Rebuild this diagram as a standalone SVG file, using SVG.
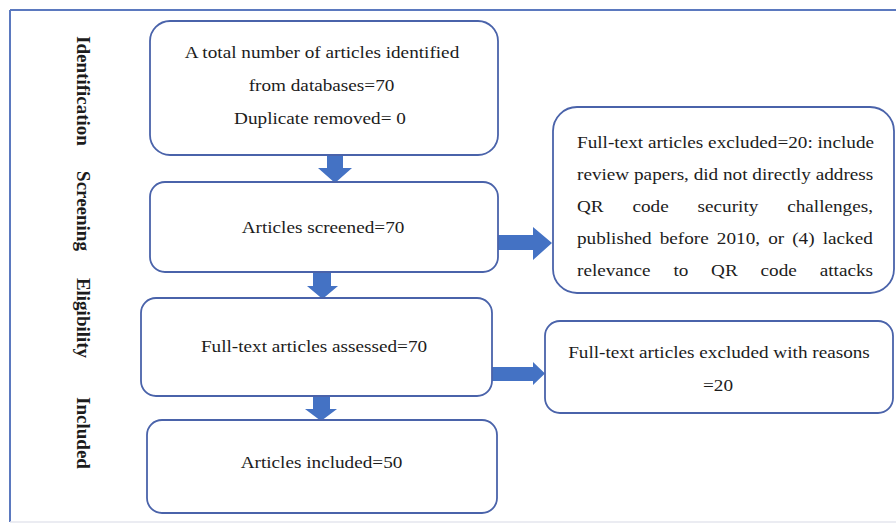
<svg xmlns="http://www.w3.org/2000/svg" width="896" height="525" viewBox="0 0 896 525">
<defs>
<style>
.bg{fill:#ffffff}
.frame{stroke:#5b79bf;stroke-width:2;fill:none}
.frameb{stroke:#e4e6ee;stroke-width:1.5;fill:none}
.box{fill:#ffffff;stroke:#4a63aa;stroke-width:1.8}
.t{font-family:"Liberation Serif","Times New Roman",serif;font-size:16.5px;fill:#1c1c1c}
.c{text-anchor:middle}
.lbl{font-family:"Liberation Serif","Times New Roman",serif;font-size:19px;font-weight:bold;fill:#1c1c1c;text-anchor:middle}
.arr{fill:#4472c4}
</style>
</defs>
<rect class="bg" x="0" y="0" width="896" height="525"/>
<g id="frame">
<line class="frame" x1="10" y1="10" x2="896" y2="10"/>
<line class="frame" x1="10" y1="10" x2="10" y2="522"/>
<line class="frameb" x1="10" y1="522" x2="896" y2="522"/>
</g>
<g id="stage-labels">
<text class="lbl" transform="translate(77,91) rotate(90)">Identification</text>
<text class="lbl" transform="translate(77,211) rotate(90)">Screening</text>
<text class="lbl" transform="translate(77,318) rotate(90)">Eligibility</text>
<text class="lbl" transform="translate(77,433) rotate(90)">Included</text>
</g>
<g id="connectors">
<polygon class="arr" points="327,155 343,155 343,168 352,168 335,183 318,168 327,168"/>
<polygon class="arr" points="313,272 331,272 331,286 338,286 322.5,299 307,286 313,286"/>
<polygon class="arr" points="313,397 330,397 330,409 337,409 321,421 305,409 313,409"/>
<polygon class="arr" points="497,235 533,235 533,227 552,243 533,260 533,250 497,250"/>
<polygon class="arr" points="492,367 533,367 533,362 545,373.5 533,385 533,381 492,381"/>
</g>
<g id="identified">
<rect class="box" x="150" y="21" width="348" height="134" rx="20"/>
<text class="t c" transform="translate(322,58) scale(1.164,1)">A total number of articles identified</text>
<text class="t c" transform="translate(321.5,91) scale(1.164,1)">from databases=70</text>
<text class="t c" transform="translate(320,124) scale(1.164,1)">Duplicate removed= 0</text>
</g>
<g id="screened">
<rect class="box" x="150" y="182" width="348" height="90" rx="15"/>
<text class="t c" transform="translate(323,233) scale(1.164,1)">Articles screened=70</text>
</g>
<g id="assessed">
<rect class="box" x="141" y="298" width="351" height="98" rx="15"/>
<text class="t c" transform="translate(314,352) scale(1.164,1)">Full-text articles assessed=70</text>
</g>
<g id="included">
<rect class="box" x="147" y="420" width="350" height="93" rx="15"/>
<text class="t c" transform="translate(321.5,468) scale(1.164,1)">Articles included=50</text>
</g>
<g id="excluded-screening">
<rect class="box" x="553" y="107" width="341" height="186" rx="24"/>
<text class="t" transform="translate(577,148) scale(1.164,1)">Full-text articles excluded=20: include</text>
<text class="t" transform="translate(577,180) scale(1.164,1)">review papers, did not directly address</text>
<text class="t" transform="translate(577,212) scale(1.164,1)">QR</text>
<text class="t" transform="translate(632.5,212) scale(1.164,1)">code</text>
<text class="t" transform="translate(697.6,212) scale(1.164,1)">security</text>
<text class="t" transform="translate(787.2,212) scale(1.164,1)">challenges,</text>
<text class="t" transform="translate(577,244) scale(1.164,1)" word-spacing="2.84">published before 2010, or (4) lacked</text>
<text class="t" transform="translate(577,276) scale(1.164,1)">relevance</text>
<text class="t" transform="translate(673.4,276) scale(1.164,1)">to</text>
<text class="t" transform="translate(711.1,276) scale(1.164,1)">QR</text>
<text class="t" transform="translate(760.6,276) scale(1.164,1)">code</text>
<text class="t" transform="translate(819.7,276) scale(1.164,1)">attacks</text>
</g>
<g id="excluded-eligibility">
<rect class="box" x="545" y="321" width="348" height="92" rx="15"/>
<text class="t c" transform="translate(719,358) scale(1.164,1)">Full-text articles excluded with reasons</text>
<text class="t c" transform="translate(718,391) scale(1.164,1)">=20</text>
</g>
</svg>
